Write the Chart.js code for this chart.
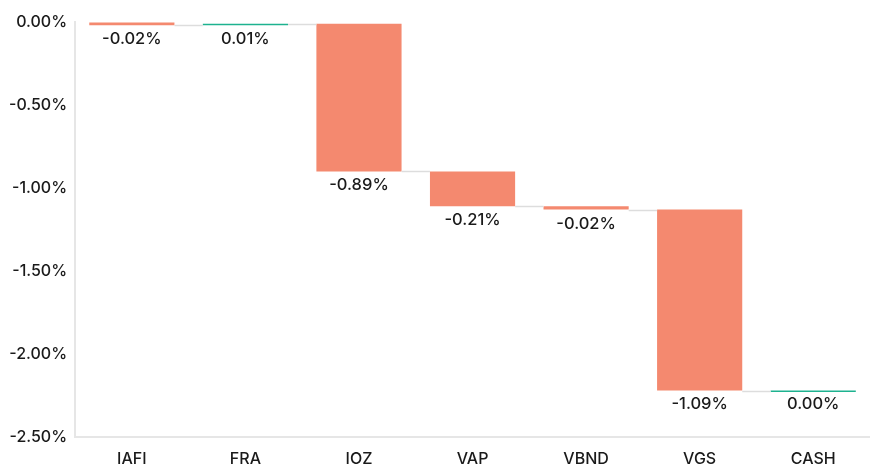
<!DOCTYPE html>
<html lang="en">
<head>
    <meta charset="UTF-8">
    <title>Waterfall</title>
    <script src="https://cdn.jsdelivr.net/npm/chart.js"></script>
    <style>
        body {
            margin: 0;
            background: #fff;
        }
        .chart-container {
            width: 870px;
            height: 468px;
            position: relative;
        }
    </style>
</head>
<body>
    <div class="chart-container">
        <canvas id="waterfall"></canvas>
    </div>

    <script>
        const categories = ['IAFI', 'FRA', 'IOZ', 'VAP', 'VBND', 'VGS', 'CASH'];
        const contributions = [-0.02, 0.01, -0.89, -0.21, -0.02, -1.09, 0.00];
        const yTicks = [0, -0.5, -1, -1.5, -2, -2.5];

        const negColor = '#F4896F';
        const posColor = '#1DB28F';
        const fontFamily = 'Inter, "Open Sans", sans-serif';

        // build floating bars [start, end] from the running total
        const ranges = [];
        let running = 0;
        contributions.forEach(v => {
            const start = running;
            running = +(running + v).toFixed(4);
            ranges.push([start, running]);
        });

        const fmt = v => v.toFixed(2) + '%';

        const waterfallExtras = {
            id: 'waterfallExtras',
            afterDatasetsDraw(chart) {
                const ctx = chart.ctx;
                const meta = chart.getDatasetMeta(0);
                const y = chart.scales.y;
                ctx.save();
                // connectors
                ctx.strokeStyle = '#dddddd';
                ctx.lineWidth = 1.5;
                for (let i = 0; i < meta.data.length - 1; i++) {
                    const a = meta.data[i], b = meta.data[i + 1];
                    const ly = Math.round(y.getPixelForValue(ranges[i][1])) + 0.5;
                    ctx.beginPath();
                    ctx.moveTo(a.x + a.width / 2, ly);
                    ctx.lineTo(b.x - b.width / 2, ly);
                    ctx.stroke();
                }
                // value labels under each bar
                ctx.fillStyle = '#1a1a1a';
                ctx.font = '500 16.5px ' + fontFamily;
                ctx.textAlign = 'center';
                ctx.textBaseline = 'middle';
                meta.data.forEach((bar, i) => {
                    const low = Math.min(ranges[i][0], ranges[i][1]);
                    const py = y.getPixelForValue(low);
                    ctx.fillText(fmt(contributions[i]), bar.x, py + 14);
                });
                ctx.restore();
            }
        };

        new Chart(document.getElementById('waterfall'), {
            type: 'bar',
            data: {
                labels: categories,
                datasets: [{
                    data: ranges,
                    backgroundColor: contributions.map(v => v < 0 ? negColor : posColor),
                    borderWidth: 0,
                    minBarLength: 1.5,
                    categoryPercentage: 1,
                    barPercentage: 0.75
                }]
            },
            options: {
                responsive: true,
                maintainAspectRatio: false,
                animation: false,
                layout: { padding: { top: 22, right: 0, left: 1, bottom: 0 } },
                plugins: {
                    legend: { display: false },
                    tooltip: { enabled: false }
                },
                scales: {
                    x: {
                        grid: { display: true, drawOnChartArea: false, drawTicks: false, color: '#e6e6e6' },
                        border: { color: '#e6e6e6', width: 2 },
                        ticks: {
                            color: '#1a1a1a',
                            padding: 13,
                            font: { family: fontFamily, size: 16, weight: 500 }
                        },
                        afterFit: axis => { axis.height = 31; }
                    },
                    y: {
                        min: -2.5,
                        max: 0,
                        afterBuildTicks: axis => {
                            axis.ticks = yTicks.map(v => ({ value: v }));
                        },
                        grid: { display: true, drawOnChartArea: false, drawTicks: false, color: '#e6e6e6' },
                        border: { color: '#e6e6e6', width: 2 },
                        ticks: {
                            color: '#1a1a1a',
                            padding: 8,
                            font: { family: fontFamily, size: 16, weight: 500 },
                            callback: v => fmt(v)
                        }
                    }
                }
            },
            plugins: [waterfallExtras]
        });
    </script>
</body>
</html>
